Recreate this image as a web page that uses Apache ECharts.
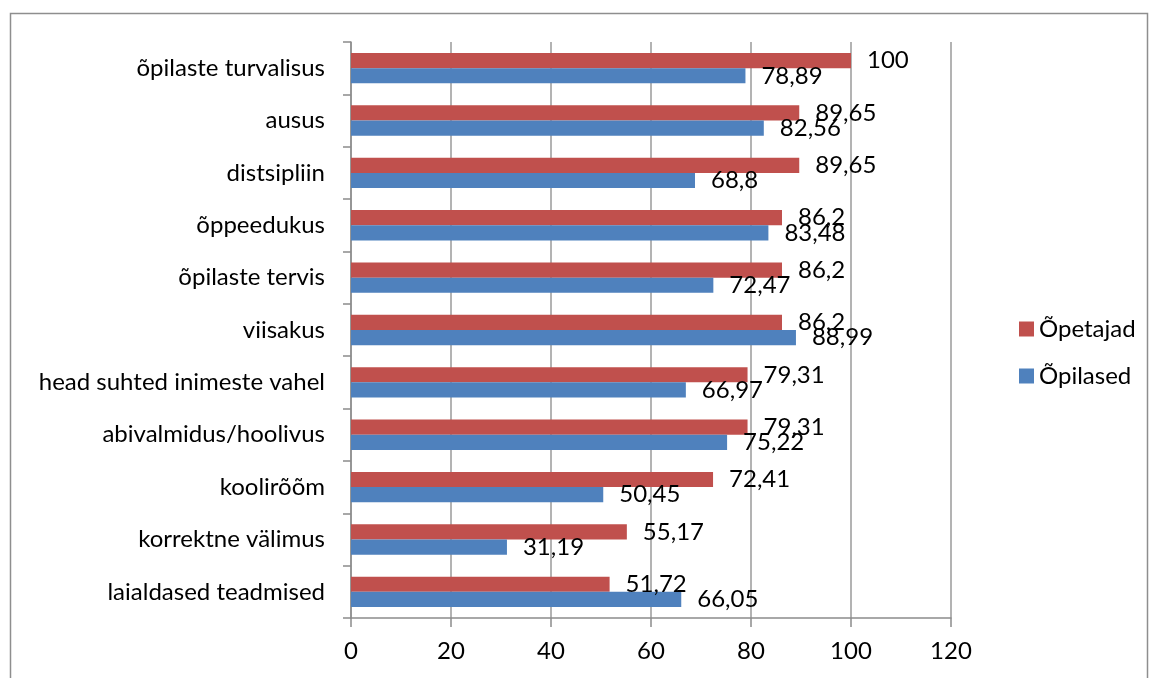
<!DOCTYPE html>
<html>
<head>
<meta charset="utf-8">
<script src="https://cdn.jsdelivr.net/npm/echarts@6/dist/echarts.min.js"></script>
<style>
  html, body { margin: 0; padding: 0; background: #fff; }
  #chart { width: 1149px; height: 678px; }
</style>
</head>
<body>
<div id="chart"></div>
<script>
// categories listed bottom to top
var categories = ['laialdased teadmised', 'korrektne välimus', 'koolirõõm', 'abivalmidus/hoolivus',
  'head suhted inimeste vahel', 'viisakus', 'õpilaste tervis', 'õppeedukus', 'distsipliin', 'ausus',
  'õpilaste turvalisus'];
var opetajad = [51.72, 55.17, 72.41, 79.31, 79.31, 86.2, 86.2, 86.2, 89.65, 89.65, 100];
var opilased = [66.05, 31.19, 50.45, 75.22, 66.97, 88.99, 72.47, 83.48, 68.8, 82.56, 78.89];
var xTicks = [0, 20, 40, 60, 80, 100, 120];

var font = 'Lato';
var fs = 24;
var chart = echarts.init(document.getElementById('chart'));

function comma(p) {
  return String(p.value).replace('.', ',');
}

chart.setOption({
  animation: false,
  textStyle: { fontFamily: font },
  graphic: [{
    type: 'rect',
    shape: { x: 10.5, y: 13.5, width: 1137, height: 700 },
    style: { fill: 'none', stroke: '#8e8e8e', lineWidth: 1.5 }
  }],
  grid: { left: 351, top: 42, width: 600, height: 576 },
  legend: {
    orient: 'vertical',
    left: 1014,
    top: 312,
    itemWidth: 15,
    itemHeight: 15,
    itemGap: 23,
    icon: 'rect',
    data: ['Õpetajad', 'Õpilased'],
    textStyle: { fontFamily: font, fontSize: fs, color: '#000', lineHeight: 24 }
  },
  xAxis: {
    type: 'value',
    min: xTicks[0],
    max: xTicks[xTicks.length - 1],
    interval: 20,
    axisLine: { show: true, lineStyle: { color: '#8c8c8c', width: 1.5 } },
    axisTick: { show: true, length: 9, lineStyle: { color: '#8c8c8c', width: 1.5 } },
    splitLine: { show: true, lineStyle: { color: '#9a9a9a', width: 1.5 } },
    axisLabel: { fontFamily: font, fontSize: fs, color: '#000', margin: 21 }
  },
  yAxis: {
    type: 'category',
    data: categories,
    axisLine: { show: true, lineStyle: { color: '#8c8c8c', width: 1.5 } },
    axisTick: { show: true, length: 8, lineStyle: { color: '#8c8c8c', width: 1.5 } },
    axisLabel: { fontFamily: font, fontSize: fs, color: '#000', margin: 26 }
  },
  series: [{
    name: 'Õpetajad',
    type: 'bar',
    data: opetajad,
    barGap: '0%',
    barCategoryGap: '42%',
    itemStyle: { color: '#c0504d' },
    label: { show: true, position: 'right', distance: 16, formatter: comma,
      fontFamily: font, fontSize: fs, color: '#000' }
  }, {
    name: 'Õpilased',
    type: 'bar',
    data: opilased,
    barGap: '0%',
    barCategoryGap: '42%',
    itemStyle: { color: '#4f81bd' },
    label: { show: true, position: 'right', distance: 16, formatter: comma,
      fontFamily: font, fontSize: fs, color: '#000' }
  }]
});
</script>
</body>
</html>
